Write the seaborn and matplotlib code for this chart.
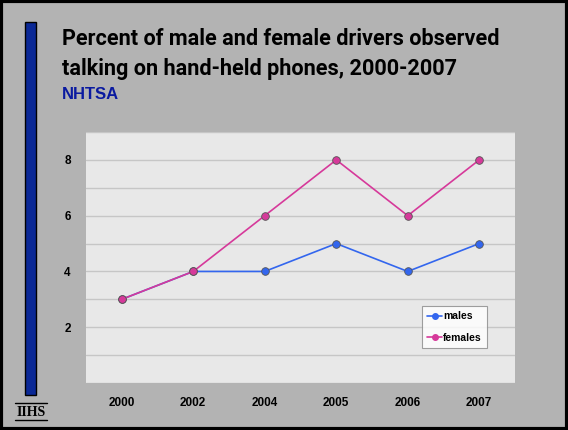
import pandas as pd
import seaborn as sns
import matplotlib.pyplot as plt
from matplotlib.patches import Rectangle
from matplotlib.lines import Line2D

# data
years = ['2000', '2002', '2004', '2005', '2006', '2007']
males = [3, 4, 4, 5, 4, 5]
females = [3, 4, 6, 8, 6, 8]

df = pd.DataFrame({'year': years * 2,
                   'pct': males + females,
                   'sex': ['males'] * len(years) + ['females'] * len(years)})

sns.set_style('white')
plt.rcParams['font.family'] = ['Liberation Sans', 'DejaVu Sans']
plt.rcParams['text.color'] = 'black'
plt.rcParams['xtick.color'] = 'black'
plt.rcParams['ytick.color'] = 'black'

fig = plt.figure(figsize=(5.68, 4.30), dpi=100)
fig.patch.set_facecolor('#b3b3b3')

# outer black frame
fig.patches.append(Rectangle((0.002, 0.003), 0.996, 0.994, transform=fig.transFigure,
                             fill=False, edgecolor='black', linewidth=3))
# blue bar on the left
fig.patches.append(Rectangle((25 / 568, 1 - 395 / 430), 11 / 568, 373 / 430,
                             transform=fig.transFigure, facecolor='#0a2896',
                             edgecolor='black', linewidth=1))

ax = fig.add_axes([86 / 568, 1 - 383 / 430, 429 / 568, 251 / 430])
ax.set_facecolor('#e8e8e8')

sns.lineplot(data=df, x='year', y='pct', hue='sex', ax=ax,
             palette={'males': '#3366ee', 'females': '#d6399a'},
             marker='o', markersize=5.5, linewidth=1.2, markeredgewidth=0.6,
             markeredgecolor='#555555', legend=False)

ax.set_xlim(-0.5, 5.5)
ax.set_ylim(0, 9)
ax.set_yticks(range(0, 10))
ax.set_yticklabels(['' if v not in (2, 4, 6, 8) else str(v) for v in range(0, 10)])
ax.grid(axis='y', color='#c6c6c6', linewidth=1)
ax.set_axisbelow(True)
for s in ax.spines.values():
    s.set_visible(False)
ax.tick_params(axis='y', length=0, labelsize=8.5, pad=11)
ax.tick_params(axis='x', length=0, labelsize=8.5, pad=10)
for lab in ax.get_xticklabels() + ax.get_yticklabels():
    lab.set_fontweight('bold')
ax.set_xlabel('')
ax.set_ylabel('')

handles = [Line2D([], [], color='#3366ee', marker='o', markersize=4, linewidth=1.2),
           Line2D([], [], color='#d6399a', marker='o', markersize=4, linewidth=1.2)]
leg = ax.legend(handles, ['males', 'females'], loc='upper left',
                bbox_to_anchor=(331 / 429, 1 - (301 - 132) / 251),
                frameon=True, fancybox=False, handlelength=1.4, handletextpad=0.1,
                prop={'weight': 'bold', 'size': 7.5}, borderpad=0.5, labelspacing=1.1)
leg.get_frame().set_edgecolor('#888888')
leg.get_frame().set_linewidth(0.8)

fig.text(62 / 568, 1 - 45 / 430,
         'Percent of male and female drivers observed',
         fontsize=15.6, fontweight='bold', family='Roboto', va='baseline', ha='left')
fig.text(62 / 568, 1 - 75 / 430,
         'talking on hand-held phones, 2000-2007',
         fontsize=15.6, fontweight='bold', family='Roboto', va='baseline', ha='left')
fig.text(62 / 568, 1 - 87 / 430, 'NHTSA', fontsize=12, fontweight='bold',
         color='#0a1aa0', va='top', ha='left')

fig.text(31 / 568, 1 - 412 / 430, 'IIHS', fontsize=10, fontweight='bold',
         family='Liberation Serif', ha='center', va='center')
fig.add_artist(Line2D([15 / 568, 47 / 568], [1 - 403 / 430] * 2, color='black', linewidth=1))
fig.add_artist(Line2D([15 / 568, 47 / 568], [1 - 420 / 430] * 2, color='black', linewidth=1))

fig.savefig('out.png', dpi=100, facecolor=fig.get_facecolor())
